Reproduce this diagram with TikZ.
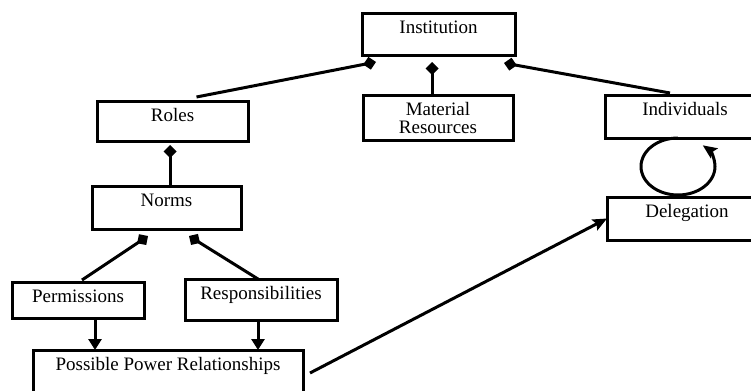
\documentclass[tikz,border=0pt]{standalone}
\usepackage{fontspec}
\setmainfont{Liberation Serif}
\usepackage{tikz}
\usetikzlibrary{arrows.meta}

\begin{document}
\begin{tikzpicture}[x=0.5pt,y=-0.5pt,
	boxed/.style 2 args={draw=black,line width=1.5pt,outer sep=0pt,inner sep=0pt,anchor=north west,
		label={[anchor=base,yshift=-#2,inner sep=0pt,align=center,font=\fontsize{9.5}{9}\selectfont]north:#1}},
	outline/.style={boxed={#1}{10.4pt}},
	part/.style={line width=1.5pt,-{Diamond[length=6.5pt,width=6.5pt]}},
	flow/.style={line width=1.5pt,-{Triangle[length=5.5pt,width=6.5pt]}},
	link/.style={line width=1.5pt,-{Stealth[length=7pt,width=6pt,inset=1.2pt]}}]
	\useasboundingbox (0,0) rectangle (751,391);
	\clip (0,0) rectangle (751,391);
	\node [outline=Institution,minimum width=76.5pt,minimum height=21pt] (inst) at (362,13) {};
	\node [boxed={Material\\Resources}{19.4pt},minimum width=75pt,minimum height=22.5pt] (mat) at (363,95) {};
	\node [outline=Roles,minimum width=75.5pt,minimum height=20pt] (roles) at (97,101) {};
	\node [outline=Individuals,minimum width=80pt,minimum height=21.5pt] (indiv) at (605,95) {};
	\node [outline=Norms,minimum width=74.5pt,minimum height=21.5pt] (norms) at (92,186) {};
	\node [outline=Delegation,minimum width=80pt,minimum height=21.5pt] (deleg) at (607,197) {};
	\node [outline=Permissions,minimum width=66pt,minimum height=18pt] (perm) at (12,282) {};
	\node [outline=Responsibilities,minimum width=76pt,minimum height=20.5pt] (resp) at (185,279) {};
	\node [outline=Possible Power Relationships,minimum width=135pt,minimum height=25pt] (ppr) at (33,350) {};
	\draw [part] ([xshift=12pt,yshift=2pt]roles.north) -- ([xshift=7pt,yshift=-3.5pt]inst.south west);
	\draw [part] ([xshift=-3pt]mat.north) -- ([xshift=-3.25pt,yshift=-3.5pt]inst.south);
	\draw [part] ([xshift=32.5pt,yshift=1pt]indiv.north west) -- ([xshift=-5.5pt,yshift=-4pt]inst.south east);
	\draw [part] ([xshift=1.75pt]norms.north) -- ([xshift=-1.25pt,yshift=-2pt]roles.south);
	\draw [part] ([xshift=2pt,yshift=1pt]perm.north) -- ([xshift=-9.25pt,yshift=-3.5pt]norms.south);
	\draw [part] ([xshift=-1.5pt]resp.north) -- ([xshift=11.25pt,yshift=-3.5pt]norms.south);
	\draw [flow] ([xshift=8.5pt]perm.south) -- ([xshift=8.5pt]perm.south |- ppr.north);
	\draw [flow] ([xshift=-1.5pt]resp.south) -- ([xshift=-1.5pt]resp.south |- ppr.north);
	\draw [link] ([xshift=3.5pt,yshift=-11.5pt]ppr.north east) -- (deleg.west);
	\draw [link] ([xshift=36.5pt]indiv.south west) arc [start angle=90,end angle=408,x radius=18.5pt,y radius=14.25pt];
\end{tikzpicture}
\end{document}
